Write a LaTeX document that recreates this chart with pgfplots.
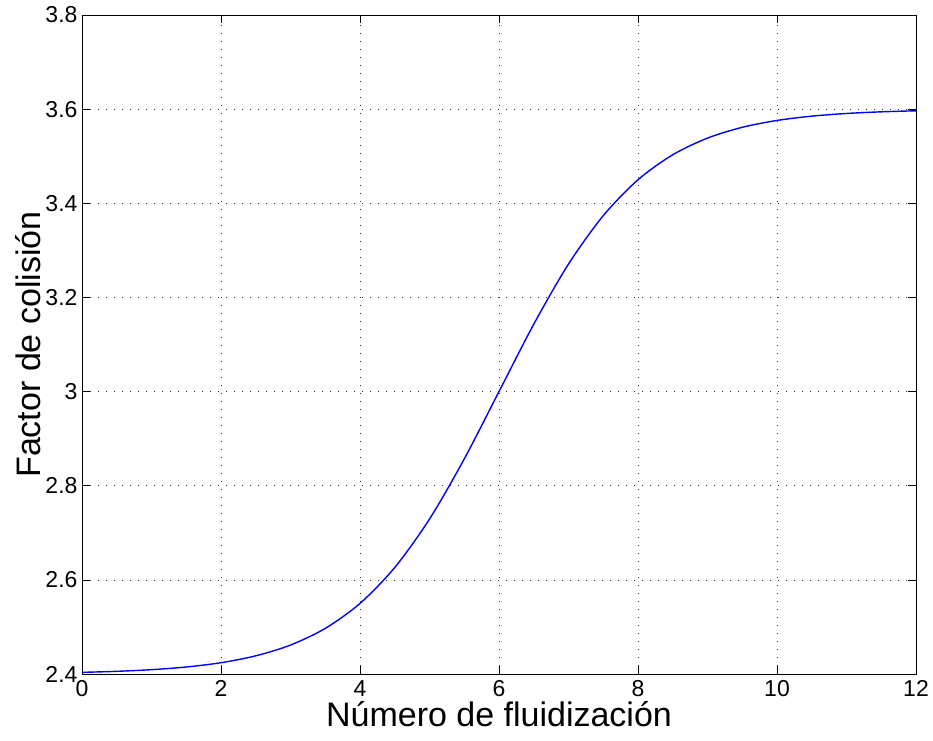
\documentclass[border=0pt]{standalone}
\usepackage{pgfplots}
\pgfplotsset{compat=1.18}
\usepackage{fontspec}
\setmainfont{Liberation Sans}
\begin{document}
\begin{tikzpicture}
\path[use as bounding box] (-82pt,-66pt) rectangle (851pt,674pt);
\begin{axis}[
  at={(0pt,0pt)}, anchor=south west,
  scale only axis,
  width=834pt, height=659pt,
  xmin=0, xmax=12, ymin=2.4, ymax=3.8,
  xtick={0,2,4,6,8,10,12},
  ytick={2.4,2.6,2.8,3,3.2,3.4,3.6,3.8},
  yticklabels={2.4,2.6,2.8,3,3.2,3.4,3.6,3.8},
  /pgf/number format/assume math mode=true,
  tick label style={font=\fontsize{23}{26}\selectfont},
  label style={font=\fontsize{34}{38}\selectfont},
  xlabel={Número de fluidización},
  ylabel={Factor de colisión},
  xlabel style={at={(axis description cs:0.5,0)}, anchor=center, yshift=-40pt},
  ylabel style={at={(axis description cs:-0.065,0.5)}, anchor=center},
  xticklabel style={yshift=-3pt},
  yticklabel style={xshift=-1pt},
  tick align=inside,
  major tick length=8pt,
  tick style={black, line width=0.6pt},
  axis line style={line width=0.9pt},
  grid=major,
  major grid style={black!80, dash pattern=on 1pt off 7pt, line width=0.6pt},
]
\addplot[blue, line width=1.4pt, smooth] coordinates {
(0,2.4035) (0.5,2.4057) (1,2.4092) (1.5,2.4149) (2,2.4240) (2.5,2.4386)
(3,2.4615) (3.5,2.4969) (4,2.5500) (4.5,2.6263) (5,2.7291) (5.5,2.8569)
(6,3.0000) (6.5,3.1431) (7,3.2709) (7.5,3.3737) (8,3.4500) (8.5,3.5031)
(9,3.5385) (9.5,3.5614) (10,3.5760) (10.5,3.5851) (11,3.5908) (11.5,3.5943)
(12,3.5965)
};
\end{axis}
\end{tikzpicture}
\end{document}
